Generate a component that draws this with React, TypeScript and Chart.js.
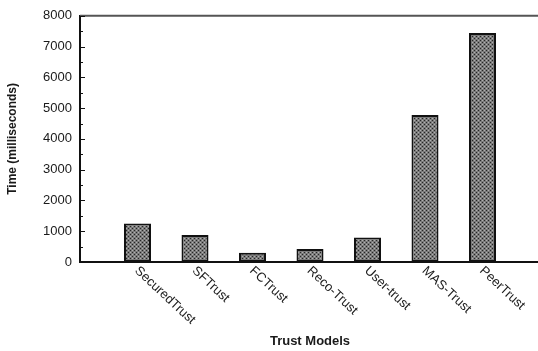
import React, { useEffect, useRef } from "react";
import { Chart, registerables } from "chart.js";

Chart.register(...registerables);

// Trust models compared and their measured running time (ms)
const categories: string[] = [
  "SecuredTrust",
  "SFTrust",
  "FCTrust",
  "Reco-Trust",
  "User-trust",
  "MAS-Trust",
  "PeerTrust",
];
const timeMs: number[] = [1250, 880, 300, 420, 800, 4780, 7440];
const yTicks: number[] = [0, 1000, 2000, 3000, 4000, 5000, 6000, 7000, 8000];

const FONT = "'Liberation Sans', Arial, Helvetica, sans-serif";

// small cross-hatched fill used for the bars
function makeHatch(): CanvasPattern | string {
  const c = document.createElement("canvas");
  c.width = 4;
  c.height = 4;
  const g = c.getContext("2d");
  if (!g) return "#777";
  g.fillStyle = "#7a7a7a";
  g.fillRect(0, 0, 4, 4);
  g.fillStyle = "#262626";
  g.fillRect(0, 0, 1, 1);
  g.fillRect(2, 2, 1, 1);
  g.fillStyle = "#b0b0b0";
  g.fillRect(2, 0, 1, 1);
  g.fillRect(0, 2, 1, 1);
  const p = g.createPattern(c, "repeat");
  return p || "#777";
}

// frame top line, inward y ticks and slanted category labels
const decorations = {
  id: "decorations",
  afterDraw(chart: any) {
    const { ctx, chartArea } = chart;
    const y = chart.scales.y;
    const x = chart.scales.x;
    ctx.save();
    // top frame line
    ctx.strokeStyle = "#555";
    ctx.lineWidth = 2;
    ctx.beginPath();
    ctx.moveTo(chartArea.left, chartArea.top);
    ctx.lineTo(chartArea.right + 10, chartArea.top);
    ctx.stroke();
    // inward major / minor ticks
    ctx.strokeStyle = "#111";
    ctx.lineWidth = 1;
    for (let v = 0; v <= 8000; v += 500) {
      const py = Math.round(y.getPixelForValue(v)) + 0.5;
      const len = v % 1000 === 0 ? 5 : 3;
      ctx.beginPath();
      ctx.moveTo(chartArea.left, py);
      ctx.lineTo(chartArea.left + len, py);
      ctx.stroke();
    }
    // category labels, slanted downward to the right
    ctx.fillStyle = "#1a1a1a";
    ctx.font = `13px ${FONT}`;
    ctx.textAlign = "left";
    ctx.textBaseline = "middle";
    categories.forEach((name, i) => {
      const px = x.getPixelForValue(i + 1);
      ctx.save();
      ctx.translate(px - 1, chartArea.bottom + 7);
      ctx.rotate((43 * Math.PI) / 180);
      ctx.fillText(name, 0, 0);
      ctx.restore();
    });
    ctx.restore();
  },
};

export default function App() {
  const ref = useRef<HTMLCanvasElement | null>(null);

  useEffect(() => {
    if (!ref.current) return;
    const labels = ["", ...categories, ""];
    const values = [null, ...timeMs, null];
    const chart = new Chart(ref.current, {
      type: "bar",
      data: {
        labels,
        datasets: [
          {
            data: values as any,
            backgroundColor: makeHatch() as any,
            borderColor: "#111",
            borderWidth: 2,
            borderSkipped: false,
            categoryPercentage: 1,
            barPercentage: 0.47,
          },
        ],
      },
      options: {
        animation: false,
        responsive: true,
        maintainAspectRatio: false,
        layout: { padding: { left: 0, right: 5, top: 13, bottom: 0 } },
        plugins: {
          legend: { display: false },
          tooltip: { enabled: false },
        },
        scales: {
          x: {
            type: "category",
            offset: false,
            grid: { display: false, drawTicks: false },
            border: { display: true, color: "#111", width: 2 },
            ticks: { display: false },
            title: {
              display: true,
              text: "Trust Models",
              color: "#1a1a1a",
              font: { family: FONT, size: 13, weight: "bold" },
              padding: { top: 4, bottom: 2 },
            },
            afterFit: (s: any) => {
              s.height = 89;
            },
          },
          y: {
            min: 0,
            max: 8000,
            grid: { display: false, drawTicks: false },
            border: { display: true, color: "#111", width: 2 },
            afterBuildTicks: (s: any) => {
              s.ticks = yTicks.map((v) => ({ value: v }));
            },
            ticks: {
              padding: 8,
              color: "#1a1a1a",
              font: { family: FONT, size: 13 },
              callback: (v: any) => String(v),
            },
            title: {
              display: true,
              text: "Time (milliseconds)",
              color: "#1a1a1a",
              font: { family: FONT, size: 12, weight: "bold" },
              padding: { top: 5, bottom: 4 },
            },
            afterFit: (s: any) => {
              s.width = 80;
            },
          },
        },
      },
      plugins: [decorations],
    });
    return () => chart.destroy();
  }, []);

  return (
    <div
      style={{
        position: "absolute",
        left: 0,
        top: 0,
        width: 538,
        height: 351,
        overflow: "hidden",
        background: "#fff",
      }}
    >
      <div style={{ position: "relative", width: 545, height: 351 }}>
        <canvas ref={ref} />
      </div>
    </div>
  );
}
